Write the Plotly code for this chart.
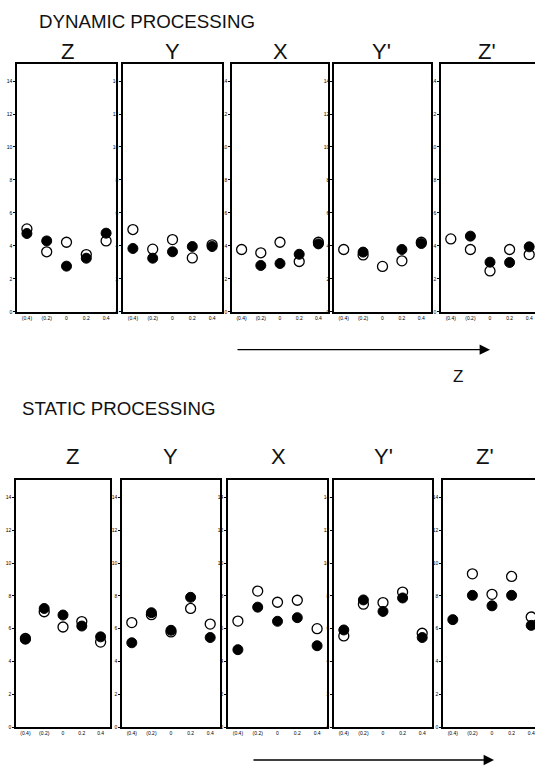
import plotly.graph_objects as go

W, H = 535, 766

# ---------------- data ----------------
x_vals = [-0.4, -0.2, 0.0, 0.2, 0.4]
x_tick_labels = ["(0.4)", "(0.2)", "0", "0.2", "0.4"]
y_tick_vals = [0, 2, 4, 6, 8, 10, 12, 14]
panel_names = ["Z", "Y", "X", "Y'", "Z'"]

# dynamic processing (filled / open circles) per panel Z, Y, X, Y', Z'
dyn_filled = [
    [4.75, 4.30, 2.77, 3.25, 4.77],
    [3.84, 3.25, 3.64, 3.96, 3.96],
    [None, 2.81, 2.93, 3.49, 4.12],
    [None, 3.62, None, 3.78, 4.14],
    [None, 4.59, 3.01, 2.99, 3.94],
]
dyn_open = [
    [5.03, 3.64, 4.22, 3.47, 4.30],
    [4.99, 3.80, 4.38, 3.27, 4.06],
    [3.78, 3.58, 4.22, 3.05, 4.22],
    [3.78, 3.45, 2.75, 3.09, 4.22],
    [4.42, 3.78, 2.48, 3.78, 3.47],
]
# static processing
sta_filled = [
    [5.36, 7.23, 6.83, 6.16, 5.50],
    [5.14, 6.97, 5.90, 7.91, 5.46],
    [4.72, 7.31, 6.45, 6.67, 4.96],
    [5.92, 7.75, 7.05, 7.87, 5.46],
    [6.55, 8.03, 7.39, 8.03, 6.20],
]
sta_open = [
    [5.40, 7.03, 6.10, 6.43, 5.18],
    [6.37, 6.85, 5.80, 7.23, 6.28],
    [6.46, 8.29, 7.61, 7.73, 6.00],
    [5.56, 7.49, 7.59, 8.23, 5.72],
    [None, 9.34, 8.09, 9.18, 6.71],
]

# ---------------- layout geometry (pixels) ----------------
top_x_px = [(17, 116), (123, 222), (232, 328), (334, 431), (441, 535)]
bot_x_px = [(16, 110), (122, 220), (228, 327), (334, 432), (443, 535)]
top_y_px = (64, 313)
bot_y_px = (482, 730)
top_lbl_x = [67, 172, 280, 381, 487]
bot_lbl_x = [72, 170, 278, 383, 485]


def px(x):
    return x / W


def py(y):
    return 1 - y / H


fig = go.Figure()
layout = {}
FONT = "Liberation Sans, Arial, sans-serif"

rows = [
    (dyn_filled, dyn_open, top_x_px, top_y_px),
    (sta_filled, sta_open, bot_x_px, bot_y_px),
]
k = 0
for filled, opened, xpx, ypx in rows:
    for i in range(5):
        k += 1
        xa = "x" if k == 1 else f"x{k}"
        ya = "y" if k == 1 else f"y{k}"
        xl, xr = xpx[i]
        if i == 4:
            xrange = [-0.5, -0.5 + (xr - xl) / 98.0]
        else:
            xrange = [-0.5, 0.5]
        fig.add_trace(go.Scatter(
            x=x_vals, y=opened[i], mode="markers", xaxis=xa, yaxis=ya,
            marker=dict(symbol="circle", size=10, color="white",
                        line=dict(color="black", width=1.3)),
            showlegend=False, hoverinfo="skip", cliponaxis=False))
        fig.add_trace(go.Scatter(
            x=x_vals, y=filled[i], mode="markers", xaxis=xa, yaxis=ya,
            marker=dict(symbol="circle", size=10, color="black",
                        line=dict(color="black", width=1)),
            showlegend=False, hoverinfo="skip", cliponaxis=False))
        xkey = "xaxis" if k == 1 else f"xaxis{k}"
        ykey = "yaxis" if k == 1 else f"yaxis{k}"
        layout[xkey] = dict(
            domain=[px(xl), min(1, px(xr))], anchor=ya, range=xrange,
            showgrid=False, zeroline=False, showline=True, linecolor="black",
            linewidth=1.5, mirror=True, ticks="", tickvals=x_vals,
            ticktext=x_tick_labels, tickfont=dict(size=5, color="black", family=FONT),
            fixedrange=True)
        layout[ykey] = dict(
            domain=[py(ypx[1]), py(ypx[0])], anchor=xa, range=[0, 15.05],
            showgrid=False, zeroline=False, showline=True, linecolor="black",
            linewidth=1.5, mirror=(i != 4), ticks="outside", ticklen=2,
            tickwidth=1, tickcolor="black", tickvals=y_tick_vals,
            tickfont=dict(size=5, color="black", family=FONT), fixedrange=True)

annotations = []
annotations.append(dict(text="DYNAMIC PROCESSING", x=px(37), y=py(22), xref="paper",
                        yref="paper", xanchor="left", yanchor="middle", showarrow=False,
                        font=dict(size=18.7, color="#111", family=FONT)))
annotations.append(dict(text="STATIC PROCESSING", x=px(20), y=py(410), xref="paper",
                        yref="paper", xanchor="left", yanchor="middle", showarrow=False,
                        font=dict(size=18.7, color="#111", family=FONT)))
for i, name in enumerate(panel_names):
    annotations.append(dict(text=name, x=px(top_lbl_x[i]), y=py(52), xref="paper",
                            yref="paper", xanchor="center", yanchor="middle",
                            showarrow=False, font=dict(size=22, color="#111", family=FONT)))
    annotations.append(dict(text=name, x=px(bot_lbl_x[i]), y=py(458), xref="paper",
                            yref="paper", xanchor="center", yanchor="middle",
                            showarrow=False, font=dict(size=22, color="#111", family=FONT)))
# arrows
annotations.append(dict(text="", x=px(490), y=py(351), ax=-(490 - 236), ay=0,
                        xref="paper", yref="paper", axref="pixel", ayref="pixel",
                        showarrow=True, arrowhead=2, arrowsize=1.6, arrowwidth=1.3,
                        arrowcolor="black"))
annotations.append(dict(text="Z", x=px(458), y=py(378), xref="paper", yref="paper",
                        xanchor="center", yanchor="middle", showarrow=False,
                        font=dict(size=17, color="#111", family=FONT)))
annotations.append(dict(text="", x=px(494), y=py(763), ax=-(494 - 252), ay=0,
                        xref="paper", yref="paper", axref="pixel", ayref="pixel",
                        showarrow=True, arrowhead=2, arrowsize=1.6, arrowwidth=1.3,
                        arrowcolor="black"))

fig.update_layout(width=W, height=H, margin=dict(l=0, r=0, t=0, b=0),
                  paper_bgcolor="white", plot_bgcolor="white",
                  annotations=annotations, showlegend=False, **layout)
fig.write_html("out.html")
